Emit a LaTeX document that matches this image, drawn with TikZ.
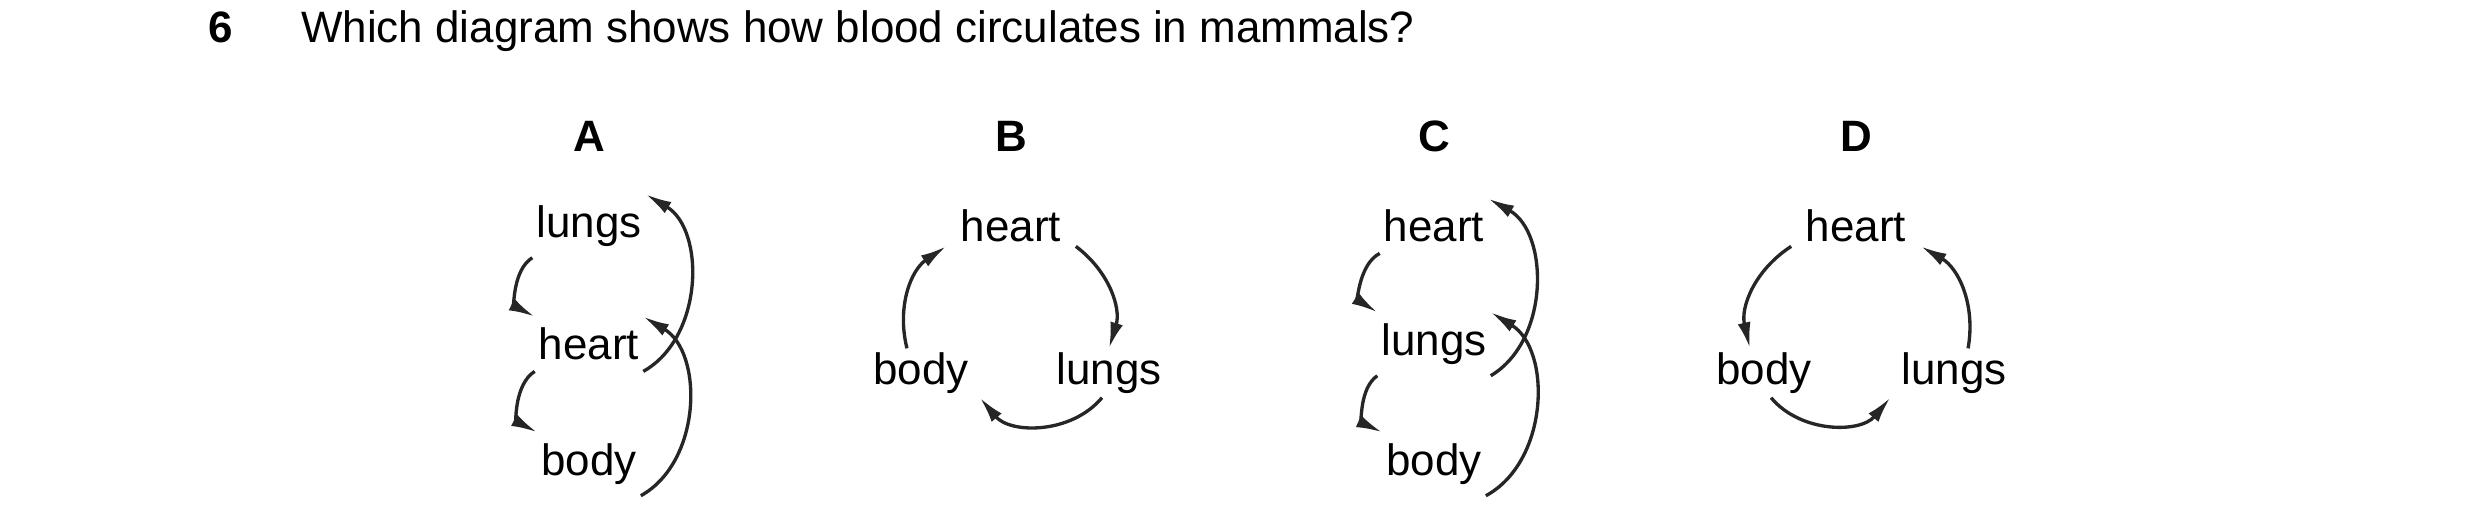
\documentclass[tikz,border=0pt]{standalone}
\usepackage{fontspec}
\setmainfont{Liberation Sans}
\usetikzlibrary{arrows.meta}
\begin{document}
\begin{tikzpicture}[x=1cm,y=1cm,
    lbl/.style={font=\fontsize{12.5}{15}\selectfont, inner sep=1pt},
    ttl/.style={font=\fontsize{12.5}{15}\selectfont\bfseries},
    flow/.style={line width=0.95pt, color=black!85, -{Latex[length=0.26cm,width=0.13cm]}}]
  \useasboundingbox (0,0) rectangle (24.8,-5.22);
  \node[ttl, anchor=base] (num) at (2.21,-0.42) {6};
  \node[lbl, anchor=base west] (q) at (2.97,-0.42) {Which diagram shows how blood circulates in mammals?};
  % A
  \node[ttl] (tA) at (5.89,-1.36) {A};
  \node[lbl] (A-lungs) at (5.89,-2.26) {lungs};
  \node[lbl] (A-heart) at (5.89,-3.44) {heart};
  \node[lbl] (A-body) at (5.89,-4.64) {body};
  \draw[flow] ([yshift=-2pt]A-lungs.south west) to[bend right=60] ([yshift=2pt]A-heart.north west);
  \draw[flow] ([yshift=-2pt]A-heart.south east) to[bend right=60] ([yshift=2pt]A-lungs.north east);
  \draw[flow] ([yshift=-2pt]A-heart.south west) to[bend right=60] ([yshift=2pt]A-body.north west);
  \draw[flow] ([yshift=-2pt]A-body.south east) to[bend right=60] ([yshift=2pt]A-heart.north east);
  % B
  \node[ttl] (tB) at (10.11,-1.36) {B};
  \node[lbl] (B-heart) at (10.11,-2.26) {heart};
  \node[lbl] (B-body) at (9.21,-3.73) {body};
  \node[lbl] (B-lungs) at (11.09,-3.73) {lungs};
  \draw[flow] ([xshift=3pt]B-heart.south east) to[bend left=35] ([xshift=0pt]B-lungs.north);
  \draw[flow] ([xshift=-2pt]B-lungs.south) to[bend left=50] ([xshift=2pt]B-body.south east);
  \draw[flow] ([xshift=-4pt]B-body.north) to[bend left=35] ([xshift=-3pt]B-heart.south west);
  % C
  \node[ttl] (tC) at (14.34,-1.36) {C};
  \node[lbl] (C-heart) at (14.34,-2.26) {heart};
  \node[lbl] (C-lungs) at (14.34,-3.44) {lungs};
  \node[lbl] (C-body) at (14.34,-4.64) {body};
  \draw[flow] ([yshift=-2pt]C-heart.south west) to[bend right=60] ([yshift=2pt]C-lungs.north west);
  \draw[flow] ([yshift=-2pt]C-lungs.south east) to[bend right=60] ([yshift=2pt]C-heart.north east);
  \draw[flow] ([yshift=-2pt]C-lungs.south west) to[bend right=60] ([yshift=2pt]C-body.north west);
  \draw[flow] ([yshift=-2pt]C-body.south east) to[bend right=60] ([yshift=2pt]C-lungs.north east);
  % D
  \node[ttl] (tD) at (18.56,-1.36) {D};
  \node[lbl] (D-heart) at (18.56,-2.26) {heart};
  \node[lbl] (D-body) at (17.64,-3.73) {body};
  \node[lbl] (D-lungs) at (19.54,-3.73) {lungs};
  \draw[flow] ([xshift=-3pt]D-heart.south west) to[bend right=35] ([xshift=-4pt]D-body.north);
  \draw[flow] ([xshift=2pt]D-body.south) to[bend right=50] ([xshift=-2pt]D-lungs.south west);
  \draw[flow] ([xshift=4pt]D-lungs.north) to[bend right=35] ([xshift=3pt]D-heart.south east);
\end{tikzpicture}
\end{document}
